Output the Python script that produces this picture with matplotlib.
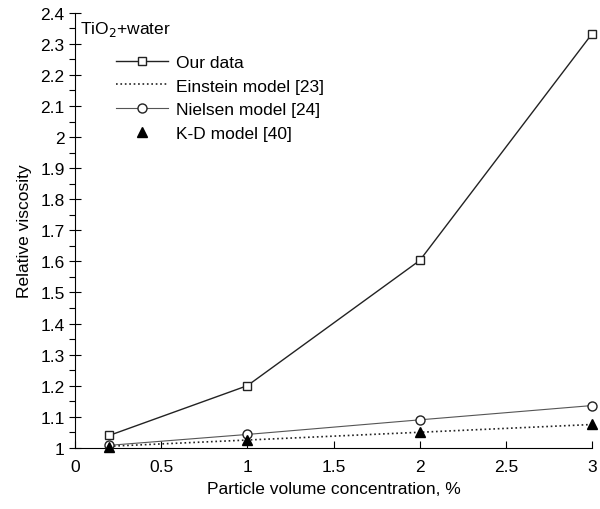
import matplotlib
matplotlib.use("Agg")
import matplotlib.pyplot as plt
from matplotlib.ticker import MultipleLocator

plt.rcParams['font.family'] = ['Liberation Sans', 'DejaVu Sans']
plt.rcParams['font.size'] = 12.5

# particle volume concentration, %
conc = [0.2, 1, 2, 3]

our_data = [1.04, 1.20, 1.603, 2.333]
einstein = [1.005, 1.025, 1.05, 1.075]
nielsen = [1.008, 1.043, 1.09, 1.136]
kd_model = [1.003, 1.025, 1.05, 1.078]

fig = plt.figure(figsize=(6, 5.1), dpi=100)
ax = fig.add_axes([0.125, 0.12, 0.862, 0.853])

ax.plot(conc, our_data, '-', color='#222222', lw=1.0, marker='s', ms=6,
        mfc='white', mec='#222222', mew=1.0, label='Our data', clip_on=False, zorder=3)
ax.plot(conc, einstein, ':', color='#222222', lw=1.2, label='Einstein model [23]', clip_on=False)
ax.plot(conc, nielsen, '-', color='#555555', lw=0.8, marker='o', ms=6.5,
        mfc='white', mec='#222222', mew=1.0, label='Nielsen model [24]', clip_on=False, zorder=3)
ax.plot(conc, kd_model, ls='none', marker='^', ms=7, color='black',
        label='K-D model [40]', clip_on=False, zorder=4)

ax.set_xlim(0, 3)
ax.set_ylim(1, 2.4)
ax.yaxis.set_minor_locator(MultipleLocator(0.05))
ax.set_xticks([0, 0.5, 1, 1.5, 2, 2.5, 3])
ax.set_xticklabels(['0', '0.5', '1', '1.5', '2', '2.5', '3'])
ax.set_yticks([1 + 0.1 * i for i in range(15)])
ax.set_yticklabels(['1', '1.1', '1.2', '1.3', '1.4', '1.5', '1.6', '1.7', '1.8',
                    '1.9', '2', '2.1', '2.2', '2.3', '2.4'])

ax.spines['top'].set_visible(False)
ax.spines['right'].set_visible(False)
ax.tick_params(axis='y', which='major', direction='inout', length=8, width=0.8)
ax.tick_params(axis='y', which='minor', direction='out', length=4, width=0.8)
ax.tick_params(axis='x', which='major', direction='in', length=5, width=0.8, pad=8)

ax.set_xlabel('Particle volume concentration, %', labelpad=5)
ax.set_ylabel('Relative viscosity', labelpad=6)

ax.text(0.01, 0.985, 'TiO$_2$+water', transform=ax.transAxes, va='top', ha='left')
ax.legend(loc='upper left', bbox_to_anchor=(0.065, 0.92), frameon=False,
          handlelength=3.0, handletextpad=0.5, labelspacing=0.5, borderaxespad=0)

plt.savefig('out.png', dpi=100)
